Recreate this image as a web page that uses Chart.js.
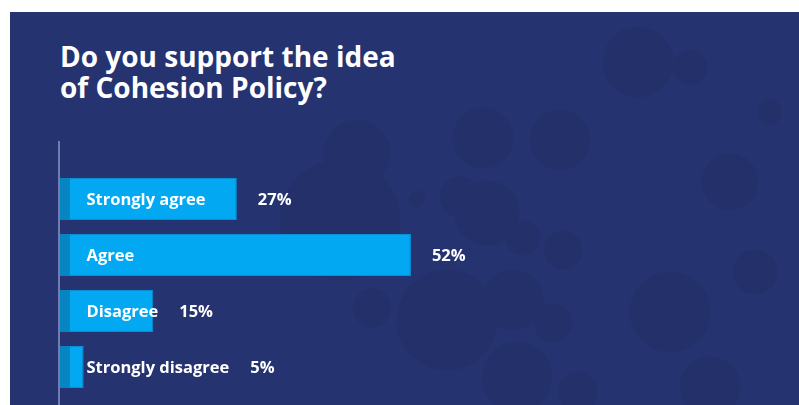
<!DOCTYPE html>
<html>
<head>
<meta charset="utf-8">
<script src="https://cdn.jsdelivr.net/npm/chart.js@4/dist/chart.umd.min.js"></script>
<style>
  html, body { margin: 0; padding: 0; background: #fff; }
  body { width: 799px; height: 405px; position: relative; overflow: hidden; }
  #panel {
    position: absolute; left: 10px; top: 12px; width: 789px; height: 393px;
    background-color: #263371;
    /* faint decorative bubbles, page coords minus panel offset */
    background-image:
      radial-gradient(circle at 628px 50px, #233069 35px, transparent 36px),
      radial-gradient(circle at 680px 55px, #233069 17px, transparent 18px),
      radial-gradient(circle at 347px 141px, #233069 33px, transparent 34px),
      radial-gradient(circle at 330px 208px, #233069 60px, transparent 61px),
      radial-gradient(circle at 437px 308px, #233069 50px, transparent 51px),
      radial-gradient(circle at 362px 296px, #233069 19px, transparent 20px),
      radial-gradient(circle at 407px 187px, #233069 8px, transparent 9px),
      radial-gradient(circle at 450px 185px, #233069 20px, transparent 21px),
      radial-gradient(circle at 477px 201px, #233069 32px, transparent 33px),
      radial-gradient(circle at 553px 238px, #233069 19px, transparent 20px),
      radial-gradient(circle at 513px 226px, #233069 17px, transparent 18px),
      radial-gradient(circle at 543px 311px, #233069 19px, transparent 20px),
      radial-gradient(circle at 503px 288px, #233069 30px, transparent 31px),
      radial-gradient(circle at 507px 365px, #233069 35px, transparent 36px),
      radial-gradient(circle at 568px 380px, #233069 20px, transparent 21px),
      radial-gradient(circle at 473px 126px, #233069 30px, transparent 31px),
      radial-gradient(circle at 550px 128px, #233069 30px, transparent 31px),
      radial-gradient(circle at 720px 170px, #233069 28px, transparent 29px),
      radial-gradient(circle at 660px 300px, #233069 40px, transparent 41px),
      radial-gradient(circle at 745px 260px, #233069 22px, transparent 23px),
      radial-gradient(circle at 700px 375px, #233069 30px, transparent 31px),
      radial-gradient(circle at 760px 100px, #233069 12px, transparent 13px);
  }
  #title {
    position: absolute; left: 50px; top: 29px;
    font-family: "Open Sans", sans-serif; font-weight: 700;
    font-size: 28px; line-height: 31px; color: #fff;
  }
  #chart { position: absolute; left: 0; top: 0; }
</style>
</head>
<body>
<div id="panel">
  <div id="title">Do you support the idea<br>of Cohesion Policy?</div>
  <canvas id="chart" width="789" height="393"></canvas>
</div>
<script>
// --- data ---
const categories = ["Strongly agree", "Agree", "Disagree", "Strongly disagree"];
const shares = [27, 52, 15, 5];

const FONT = '700 16.5px "Open Sans", sans-serif';
const X_MIN = 1.6; // bars start a bit past zero at the axis line

// axis line + dark left stripe + labels
const decor = {
  id: "decor",
  beforeDatasetsDraw(chart) {
    const { ctx, chartArea } = chart;
    ctx.save();
    ctx.strokeStyle = "#8f97c9";
    ctx.lineWidth = 1.5;
    ctx.beginPath();
    ctx.moveTo(chartArea.left - 1, chartArea.top - 30);
    ctx.lineTo(chartArea.left - 1, chart.height);
    ctx.stroke();
    ctx.restore();
  },
  afterDatasetsDraw(chart) {
    const { ctx } = chart;
    const meta = chart.getDatasetMeta(0);
    ctx.save();
    ctx.font = FONT;
    ctx.textBaseline = "middle";
    meta.data.forEach((bar, i) => {
      const h = bar.height;
      ctx.fillStyle = "#0784c2";
      ctx.fillRect(bar.base, bar.y - h / 2, 10, h);
      ctx.fillStyle = "#fff";
      const lx = bar.base + 26.5;
      ctx.fillText(categories[i], lx, bar.y + 1);
      const textEnd = lx + ctx.measureText(categories[i]).width;
      ctx.fillText(shares[i] + "%", Math.max(bar.x, textEnd) + 21, bar.y + 1);
    });
    ctx.restore();
  },
};

new Chart(document.getElementById("chart"), {
  type: "bar",
  data: {
    labels: categories,
    datasets: [{
      data: shares,
      base: X_MIN,
      backgroundColor: "#02a8f1",
      borderColor: "#0a8fd6",
      borderWidth: 1,
      categoryPercentage: 1,
      barPercentage: 0.75,
    }],
  },
  options: {
    indexAxis: "y",
    responsive: false,
    animation: false,
    layout: { padding: { left: 50, right: 33, top: 159, bottom: 10 } },
    plugins: { legend: { display: false }, tooltip: { enabled: false } },
    scales: {
      x: { display: false, min: X_MIN, max: 103 },
      y: { display: false },
    },
  },
  plugins: [decor],
});
</script>
</body>
</html>
